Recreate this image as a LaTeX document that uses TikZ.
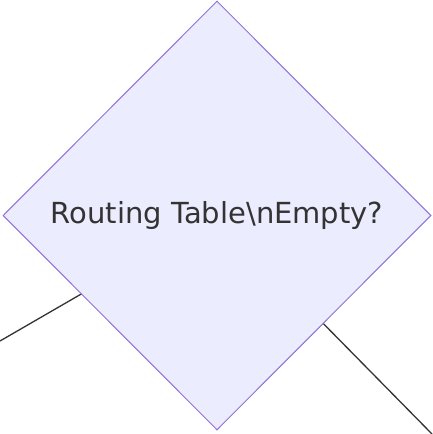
\documentclass[tikz,border=0pt]{standalone}
\usepackage{fontspec}
\setmainfont{DejaVu Sans}
\usetikzlibrary{shapes.geometric}
\definecolor{decfill}{HTML}{ECECFF}
\definecolor{decline}{HTML}{9370DB}
\definecolor{edgegray}{HTML}{333333}
\tikzset{
	decision/.style={draw=decline, fill=decfill, diamond, aspect=1, inner sep=0pt, line width=1pt,
		minimum width=428pt, minimum height=429pt, text=edgegray, font=\fontsize{29pt}{34pt}\selectfont},
	edge/.style={draw=edgegray, line width=1.3pt}
}
\begin{document}
\begin{tikzpicture}[x=1pt, y=-1pt]
		\useasboundingbox (0, 0) rectangle (432, 434);

		\draw[edge] (217, 215.5) -- (0, 341);
		\draw[edge] (217, 215.5) -- (432, 434);

		\node[decision] (empty) at (217, 215.5) {Routing Table\textbackslash nEmpty?};
	\end{tikzpicture}
\end{document}
